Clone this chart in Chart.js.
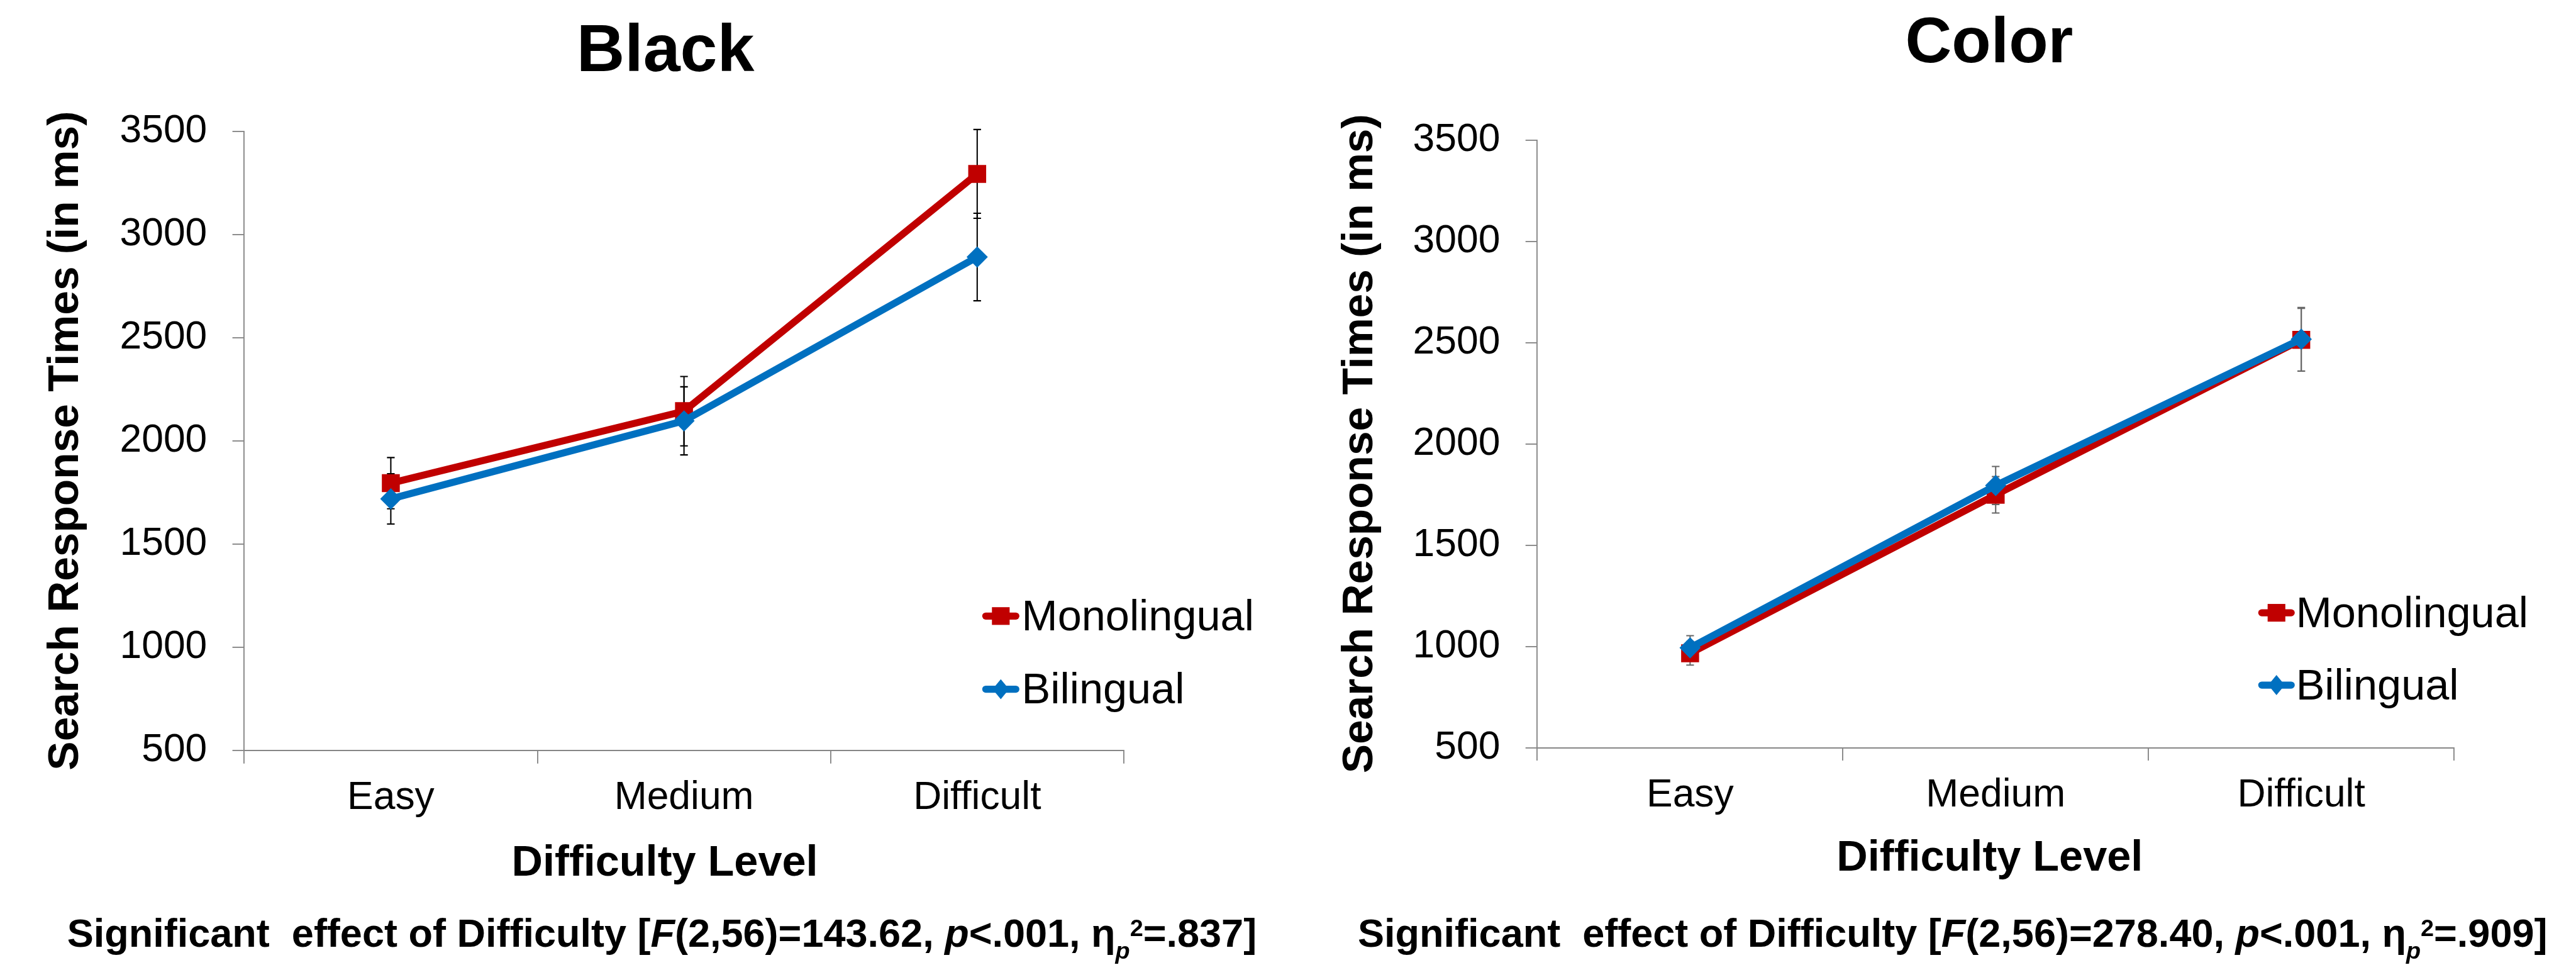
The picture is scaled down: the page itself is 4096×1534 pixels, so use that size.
<!DOCTYPE html>
<html><head><meta charset="utf-8">
<script src="https://cdn.jsdelivr.net/npm/chart.js@4.4.1/dist/chart.umd.min.js"></script>
<style>
html,body{margin:0;padding:0;background:#fff;overflow:hidden}
#wrap{position:relative;width:4096px;height:1534px;background:#fff}
canvas{position:absolute;top:0}
</style></head><body>
<div id="wrap"><canvas id="c1"></canvas><canvas id="c2"></canvas></div>
<script>
// ---------- data ----------
const categories = ['Easy', 'Medium', 'Difficult'];
const seriesNames = ['Monolingual', 'Bilingual'];
const yMin = 500, yMax = 3500, yStep = 500;
const blackMono = [1796, 2145, 3295];
const blackMonoErr = [124, 168, 215];
const blackBi = [1720, 2098, 2892];
const blackBiErr = [122, 165, 212];
const colorMono = [966, 1749, 2515];
const colorMonoErr = [58, 90, 155];
const colorBi = [993, 1795, 2518];
const colorBiErr = [60, 94, 157];
const chartTitles = ['Black', 'Color'];
const yTitle = 'Search Response Times (in ms)';
const xTitle = 'Difficulty Level';
const noteBlack = [['Significant  effect of Difficulty [', 'b'], ['F', 'bi'], ['(2,56)=143.62, ', 'b'], ['p', 'bi'], ['<.001, \u03b7', 'b'], ['p', 'sub'], ['2', 'sup'], ['=.837]', 'b']];
const noteColor = [['Significant  effect of Difficulty [', 'b'], ['F', 'bi'], ['(2,56)=278.40, ', 'b'], ['p', 'bi'], ['<.001, \u03b7', 'b'], ['p', 'sub'], ['2', 'sup'], ['=.909]', 'b']];

// ---------- layout (reference px) ----------
const s = 0.938;
const FAM = '"Liberation Sans", Arial, Helvetica, sans-serif';
const RED = '#C00000', BLUE = '#0070C0', AXIS = '#868686';
const W1 = Math.round(2190 * s), H = 1534, W2 = 4096 - W1;

const layouts = [
  { canvas: 'c1', offPx: 0, widthPx: W1,
    plot: { l: 414, r: 1905, t: 223, b: 1272 },
    title: { x: 1128, y: 120, size: 113 },
    yTitle: { x: 132, y: 747 },
    xTitle: { x: 1127, y: 1484 },
    legend: { x1: 1665, x2: 1728, tx: 1732, rows: [1044, 1168] },
    note: { x: 1122, y: 1605 },
    errColor: '#000000' },
  { canvas: 'c2', offPx: W1, widthPx: W2,
    plot: { l: 2606, r: 4160, t: 238, b: 1267 },
    title: { x: 3372, y: 106, size: 109 },
    yTitle: { x: 2326, y: 752 },
    xTitle: { x: 3373, y: 1476 },
    legend: { x1: 3828, x2: 3890, tx: 3892, rows: [1038.5, 1161] },
    note: { x: 3310, y: 1605 },
    errColor: '#666666' }
];

function fnt(size, bold, italic) {
  return (italic ? 'italic ' : '') + (bold ? 'bold ' : '') + size + 'px ' + FAM;
}

function drawRich(ctx, segs, cx, by, size) {
  const items = segs.map(([t, st]) => {
    let f, dy = 0;
    if (st === 'b') f = fnt(size, true, false);
    else if (st === 'bi') f = fnt(size, true, true);
    else if (st === 'sub') { f = fnt(size * 0.6, true, true); dy = size * 0.3; }
    else { f = fnt(size * 0.6, true, false); dy = -size * 0.28; }
    ctx.font = f;
    return { t, f, dy, w: ctx.measureText(t).width };
  });
  const total = items.reduce((a, b) => a + b.w, 0);
  let x = cx - total / 2;
  ctx.textAlign = 'left';
  ctx.textBaseline = 'alphabetic';
  items.forEach(it => { ctx.font = it.f; ctx.fillText(it.t, x, by + it.dy); x += it.w; });
}

function makeChart(idx, mono, monoErr, bi, biErr, note) {
  const L = layouts[idx];
  const cv = document.getElementById(L.canvas);
  cv.width = L.widthPx; cv.height = H;
  cv.style.left = L.offPx + 'px';
  cv.style.width = L.widthPx + 'px'; cv.style.height = H + 'px';
  const X = v => v * s - L.offPx, Y = v => v * s;
  const yW = 300 * s, xH = 160 * s;
  const pad = {
    left: X(L.plot.l) - yW,
    right: L.widthPx - X(L.plot.r),
    top: Y(L.plot.t),
    bottom: H - Y(L.plot.b) - xH
  };

  const errPlugin = {
    id: 'errbars',
    beforeDatasetsDraw(chart) {
      const ctx = chart.ctx, ys = chart.scales.y;
      ctx.save();
      ctx.strokeStyle = L.errColor;
      ctx.lineWidth = 2.2 * s;
      chart.data.datasets.forEach((ds, i) => {
        const meta = chart.getDatasetMeta(i);
        meta.data.forEach((pt, j) => {
          const v = ds.data[j], e = ds.errorBars[j];
          const x = pt.x, yt = ys.getPixelForValue(v + e), yb = ys.getPixelForValue(v - e);
          const cw = 6.5 * s;
          ctx.beginPath();
          ctx.moveTo(x, yt); ctx.lineTo(x, yb);
          ctx.moveTo(x - cw, yt); ctx.lineTo(x + cw, yt);
          ctx.moveTo(x - cw, yb); ctx.lineTo(x + cw, yb);
          ctx.stroke();
        });
      });
      ctx.restore();
    }
  };

  const decorPlugin = {
    id: 'decor',
    afterDraw(chart) {
      const ctx = chart.ctx;
      ctx.save();
      ctx.fillStyle = '#000';
      // title
      ctx.font = fnt(L.title.size * s, true, false);
      ctx.textAlign = 'center'; ctx.textBaseline = 'alphabetic';
      ctx.fillText(chartTitles[idx], X(L.title.x), Y(L.title.y));
      // x title
      ctx.font = fnt(73 * s, true, false);
      ctx.fillText(xTitle, X(L.xTitle.x), Y(L.xTitle.y));
      // y title
      ctx.save();
      ctx.translate(X(L.yTitle.x), Y(L.yTitle.y));
      ctx.rotate(-Math.PI / 2);
      ctx.font = fnt(74 * s, true, false);
      ctx.fillText(yTitle, 0, 0);
      ctx.restore();
      // legend
      const cols = [RED, BLUE];
      L.legend.rows.forEach((ry, k) => {
        const yy = Y(ry), x1 = X(L.legend.x1), x2 = X(L.legend.x2), xc = (x1 + x2) / 2;
        ctx.strokeStyle = cols[k]; ctx.lineWidth = 12 * s; ctx.lineCap = 'round';
        ctx.beginPath(); ctx.moveTo(x1 + 6 * s, yy); ctx.lineTo(x2 - 6 * s, yy); ctx.stroke();
        ctx.fillStyle = cols[k];
        if (k === 0) {
          const h = 15 * s; ctx.fillRect(xc - h, yy - h, 2 * h, 2 * h);
        } else {
          const hw = 14 * s, hh = 17 * s;
          ctx.beginPath(); ctx.moveTo(xc, yy - hh); ctx.lineTo(xc + hw, yy); ctx.lineTo(xc, yy + hh); ctx.lineTo(xc - hw, yy); ctx.closePath(); ctx.fill();
        }
        ctx.fillStyle = '#000';
        ctx.font = fnt(73 * s, false, false);
        ctx.textAlign = 'left';
        ctx.fillText(seriesNames[k], X(L.legend.tx), yy + 24 * s);
      });
      // note
      ctx.fillStyle = '#000';
      drawRich(ctx, note, X(L.note.x), Y(L.note.y), 67.2 * s);
      ctx.restore();
    }
  };

  return new Chart(cv, {
    type: 'line',
    data: {
      labels: categories,
      datasets: [
        { label: seriesNames[0], data: mono, errorBars: monoErr, order: 1,
          borderColor: RED, backgroundColor: RED, borderWidth: 12 * s,
          pointStyle: 'rect', pointRadius: 21.5 * s, pointBackgroundColor: RED,
          pointBorderColor: RED, pointBorderWidth: 0, tension: 0, fill: false },
        { label: seriesNames[1], data: bi, errorBars: biErr, order: 0,
          borderColor: BLUE, backgroundColor: BLUE, borderWidth: 12 * s,
          pointStyle: 'rectRot', pointRadius: 18 * s, pointBackgroundColor: BLUE,
          pointBorderColor: BLUE, pointBorderWidth: 0, tension: 0, fill: false }
      ]
    },
    options: {
      responsive: false, animation: false, devicePixelRatio: 1,
      layout: { padding: pad },
      plugins: { legend: { display: false }, tooltip: { enabled: false }, title: { display: false } },
      scales: {
        x: {
          type: 'category', offset: true,
          grid: { offset: true, drawOnChartArea: false, drawTicks: true, tickLength: 22 * s, color: AXIS, lineWidth: 2 * s },
          border: { display: true, color: AXIS, width: 2 * s },
          ticks: { color: '#000', padding: 19 * s, font: { family: FAM, size: 66.5 * s }, maxRotation: 0, autoSkip: false },
          afterFit(sc) { sc.height = xH; }
        },
        y: {
          type: 'linear', min: yMin, max: yMax,
          grid: { drawOnChartArea: false, drawTicks: true, tickLength: 20 * s, color: AXIS, lineWidth: 2 * s },
          border: { display: true, color: AXIS, width: 2 * s },
          ticks: { stepSize: yStep, color: '#000', padding: 43 * s, font: { family: FAM, size: 66.5 * s },
                   callback: v => String(v) },
          afterFit(sc) { sc.width = yW; }
        }
      }
    },
    plugins: [errPlugin, decorPlugin]
  });
}

makeChart(0, blackMono, blackMonoErr, blackBi, blackBiErr, noteBlack);
makeChart(1, colorMono, colorMonoErr, colorBi, colorBiErr, noteColor);
</script>
</body></html>
